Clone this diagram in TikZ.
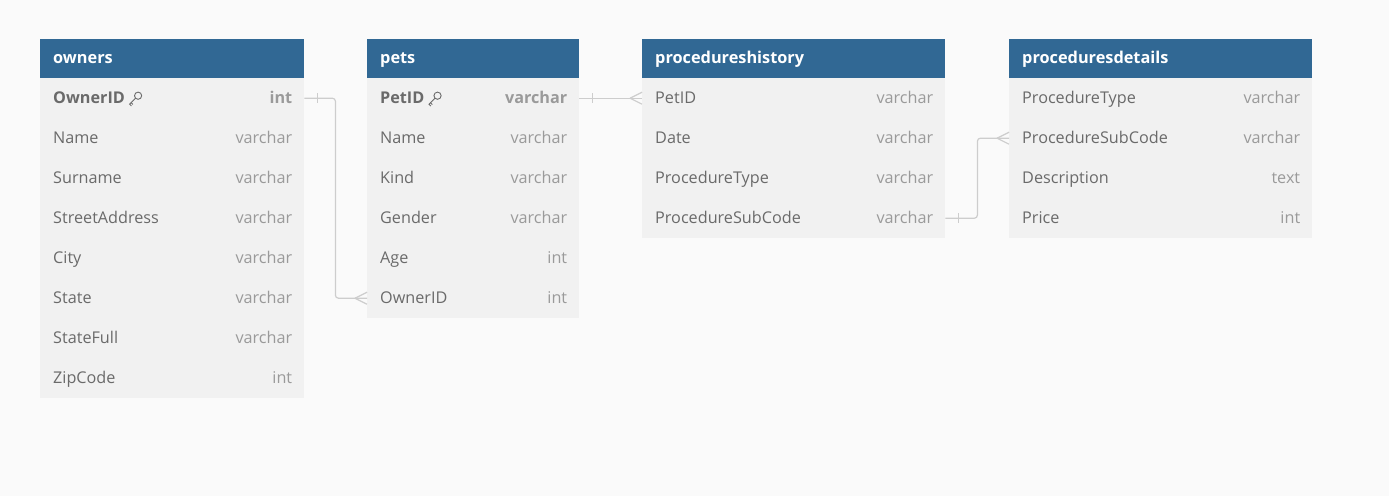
\documentclass[tikz,border=0pt]{standalone}
\usepackage{fontspec}
\setmainfont{Open Sans}
\usetikzlibrary{calc}
\definecolor{bgc}{HTML}{FAFAFA}
\definecolor{bodyc}{HTML}{F1F1F1}
\definecolor{hdrc}{HTML}{316894}
\definecolor{namec}{HTML}{6A6A6A}
\definecolor{typec}{HTML}{9A9A9A}
\definecolor{linec}{HTML}{CDCDCD}
\tikzset{
  hdr/.style={fill=hdrc, draw=none, anchor=north west, minimum height=39pt, inner sep=0pt},
  rowbox/.style={fill=bodyc, draw=none, anchor=north west, minimum height=40pt, inner sep=0pt},
  htext/.style={anchor=west, text=white, font=\fontsize{16.3}{19}\selectfont\bfseries, inner sep=0pt, text height=11pt, text depth=3pt},
  nametext/.style={anchor=west, text=namec, font=\fontsize{16.2}{19}\selectfont, inner sep=0pt, text height=11pt, text depth=3pt},
  typetext/.style={anchor=east, text=typec, font=\fontsize{16.2}{19}\selectfont, inner sep=0pt, text height=11pt, text depth=3pt},
  boldname/.style={nametext, font=\fontsize{16.2}{19}\selectfont\bfseries},
  boldtype/.style={typetext, font=\fontsize{16.2}{19}\selectfont\bfseries},
  conn/.style={draw=linec, line width=1.2pt},
  keyic/.style={draw=namec, line width=0.9pt},
}
\newcommand\keyicon[1]{%
  \draw[keyic] ($(#1)+(13,-3.5)$) circle (3.6pt);
  \draw[keyic] ($(#1)+(10.5,-1)$) -- ($(#1)+(4.5,5)$) -- ($(#1)+(6.3,6.8)$);
  \draw[keyic] ($(#1)+(6,3.5)$) -- ($(#1)+(7.8,5.3)$);
}
\begin{document}
\begin{tikzpicture}[x=1pt,y=-1pt]
\fill[bgc] (0,0) rectangle (1389,496);
\useasboundingbox (0,0) rectangle (1389,496);

% ---------- owners ----------
\node[hdr, minimum width=264pt] (owners) at (40,39) {};
\node[htext] (owners-t) at ($(owners.west)+(13,1)$) {owners};
\foreach \i in {1,...,8}{
  \node[rowbox, minimum width=264pt] (owners-r\i) at (40,{78+40*(\i-1)}) {};
}
\node[boldname] (owners-n1) at ($(owners-r1.west)+(13,1)$) {OwnerID};
\node[boldtype] (owners-y1) at ($(owners-r1.east)+(-12,1)$) {int};
\foreach \n/\t [count=\i from 2] in {Name/varchar,Surname/varchar,StreetAddress/varchar,City/varchar,State/varchar,StateFull/varchar,ZipCode/int}{
  \node[nametext] (owners-n\i) at ($(owners-r\i.west)+(13,1)$) {\n};
  \node[typetext] (owners-y\i) at ($(owners-r\i.east)+(-12,1)$) {\t};
}
\keyicon{owners-n1.east}

% ---------- pets ----------
\node[hdr, minimum width=212pt] (pets) at (367,39) {};
\node[htext] (pets-t) at ($(pets.west)+(13,1)$) {pets};
\foreach \i in {1,...,6}{
  \node[rowbox, minimum width=212pt] (pets-r\i) at (367,{78+40*(\i-1)}) {};
}
\node[boldname] (pets-n1) at ($(pets-r1.west)+(13,1)$) {PetID};
\node[boldtype] (pets-y1) at ($(pets-r1.east)+(-12,1)$) {varchar};
\foreach \n/\t [count=\i from 2] in {Name/varchar,Kind/varchar,Gender/varchar,Age/int,OwnerID/int}{
  \node[nametext] (pets-n\i) at ($(pets-r\i.west)+(13,1)$) {\n};
  \node[typetext] (pets-y\i) at ($(pets-r\i.east)+(-12,1)$) {\t};
}
\keyicon{pets-n1.east}

% ---------- procedureshistory ----------
\node[hdr, minimum width=303pt] (ph) at (642,39) {};
\node[htext] (ph-t) at ($(ph.west)+(13,1)$) {procedureshistory};
\foreach \n/\t [count=\i] in {PetID/varchar,Date/varchar,ProcedureType/varchar,ProcedureSubCode/varchar}{
  \node[rowbox, minimum width=303pt] (ph-r\i) at (642,{78+40*(\i-1)}) {};
  \node[nametext] (ph-n\i) at ($(ph-r\i.west)+(13,1)$) {\n};
  \node[typetext] (ph-y\i) at ($(ph-r\i.east)+(-12,1)$) {\t};
}

% ---------- proceduresdetails ----------
\node[hdr, minimum width=303pt] (pd) at (1009,39) {};
\node[htext] (pd-t) at ($(pd.west)+(13,1)$) {proceduresdetails};
\foreach \n/\t [count=\i] in {ProcedureType/varchar,ProcedureSubCode/varchar,Description/text,Price/int}{
  \node[rowbox, minimum width=303pt] (pd-r\i) at (1009,{78+40*(\i-1)}) {};
  \node[nametext] (pd-n\i) at ($(pd-r\i.west)+(13,1)$) {\n};
  \node[typetext] (pd-y\i) at ($(pd-r\i.east)+(-12,1)$) {\t};
}

% ---------- connectors ----------
% owners.OwnerID -> pets.OwnerID
\coordinate (c1) at ($(owners-r1.east)+(31,0)$);
\draw[conn, rounded corners=3pt] (owners-r1.east) -- (c1) |- (pets-r6.west);
\draw[conn] ($(owners-r1.east)+(13,-5)$) -- ($(owners-r1.east)+(13,5)$);
\draw[conn] ($(pets-r6.west)+(-12,0)$) -- ($(pets-r6.west)+(0,-6)$);
\draw[conn] ($(pets-r6.west)+(-12,0)$) -- ($(pets-r6.west)+(0,6)$);

% pets.PetID -> procedureshistory.PetID
\draw[conn] (pets-r1.east) -- (ph-r1.west);
\draw[conn] ($(pets-r1.east)+(13,-5)$) -- ($(pets-r1.east)+(13,5)$);
\draw[conn] ($(ph-r1.west)+(-12,0)$) -- ($(ph-r1.west)+(0,-6)$);
\draw[conn] ($(ph-r1.west)+(-12,0)$) -- ($(ph-r1.west)+(0,6)$);

% procedureshistory.ProcedureSubCode -> proceduresdetails.ProcedureSubCode
\coordinate (c3) at ($(ph-r4.east)+(32,0)$);
\draw[conn, rounded corners=3pt] (ph-r4.east) -- (c3) |- (pd-r2.west);
\draw[conn] ($(ph-r4.east)+(13,-5)$) -- ($(ph-r4.east)+(13,5)$);
\draw[conn] ($(pd-r2.west)+(-12,0)$) -- ($(pd-r2.west)+(0,-6)$);
\draw[conn] ($(pd-r2.west)+(-12,0)$) -- ($(pd-r2.west)+(0,6)$);
\end{tikzpicture}
\end{document}
